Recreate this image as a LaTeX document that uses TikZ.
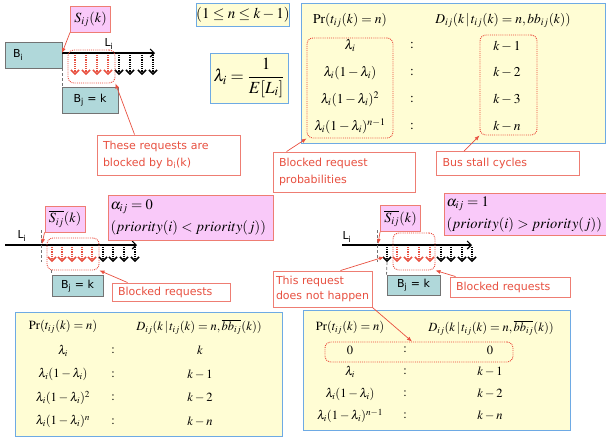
\documentclass[tikz,border=0pt]{standalone}
\usepackage{amsmath}
\usepackage{mathptmx}
\usepackage[no-math]{fontspec}
\setsansfont{DejaVu Sans}
\usetikzlibrary{arrows.meta,positioning}
\definecolor{padyel}{RGB}{255,253,212}
\definecolor{padblue}{RGB}{110,170,228}
\definecolor{padpink}{RGB}{249,201,249}
\definecolor{notered}{RGB}{232,80,64}
\definecolor{noteline}{RGB}{238,125,115}
\definecolor{busteal}{RGB}{176,216,218}

\begin{document}
\begin{tikzpicture}[x=1pt, y=-1pt,
    bus/.style={draw=black!55, fill=busteal, line width=0.9pt, inner sep=0pt,
                font=\sffamily\fontsize{11}{13}\selectfont},
    sbox/.style={draw=noteline, fill=padpink, line width=0.9pt, inner sep=0pt,
                 minimum width=40pt, minimum height=26pt, font=\fontsize{14}{16}\selectfont},
    abox/.style={draw=noteline, fill=padpink, line width=0.9pt, inner xsep=2.5pt,
                 inner ysep=0pt, align=left, font=\fontsize{14.5}{22}\selectfont},
    ybox/.style={draw=padblue, fill=padyel, line width=0.9pt, inner sep=0pt},
    note/.style={draw=noteline, fill=white, line width=0.9pt, text=notered,
                 inner xsep=6pt, inner ysep=0pt, align=left,
                 font=\sffamily\fontsize{11}{17}\selectfont},
    grp/.style={draw=notered!90!red, densely dotted, line width=0.9pt, rounded corners=6pt, inner sep=0pt},
    lab/.style={font=\sffamily\fontsize{11}{13}\selectfont, inner sep=0pt},
    cellA/.style={font=\fontsize{13.5}{15}\selectfont, inner sep=0pt},
    cellB/.style={font=\fontsize{12.5}{15}\selectfont, inner sep=0pt},
    arr/.style={-{Latex[length=5pt,width=4pt]}, notered, line width=0.7pt},
    tline/.style={-{Straight Barb[length=4pt,width=8pt]}, line width=1.1pt},
    reqr/.style={densely dotted, notered, line width=1.2pt,
                 -{Straight Barb[length=4pt,width=8pt,line width=1.5pt]}},
    reqk/.style={reqr, black},
    vline/.style={densely dashed, black!55, line width=0.8pt}
  ]
\useasboundingbox (0,0) rectangle (606,440);

\node[ybox, minimum width=304pt, minimum height=140pt] (tb1) at (453,73) {};
\node[ybox, minimum width=267pt, minimum height=124pt] (tb3) at (148.5,374) {};
\node[ybox, minimum width=267pt, minimum height=120pt] (tb4) at (436.5,370) {};

\node[bus, minimum width=57pt, minimum height=26pt, text width=41pt, align=left] (bi) at (33.5,55) {B\textsubscript{i}};
\node[bus, minimum width=56pt, minimum height=26pt] (bj1) at (90,100) {B\textsubscript{j} = k};
\node[sbox] (s1) at (90.5,19) {$S_{ij}(k)$};
\coordinate (t1a) at (62,53);
\coordinate (t1b) at (155,53);
\draw[tline] (t1a) -- (t1b);
\node[lab] (l1) at (109,44) {L\textsubscript{i}};
\foreach \x in {75,86,97,108} \draw[reqr] (\x,55) -- (\x,75);
\foreach \x in {119,130,142,153} \draw[reqk] (\x,55) -- (\x,75);
\node[grp, minimum width=47pt, minimum height=33pt] (g1) at (91.5,66.5) {};
\draw[vline] (bi.south east) -- (bi.south east |- bj1.north);
\draw[arr] (s1.south west) -- (t1a);
\node[note, text width=131pt, minimum height=40pt] (n1) at (168.5,155) {These requests are\\blocked by b\textsubscript{i}(k)};
\draw[arr] ([xshift=38pt]n1.north west) -- (g1.south east);

\node[ybox, minimum width=90pt, minimum height=23pt, font=\fontsize{15}{17}\selectfont] (rng) at (243,14.5) {$(1\le n\le k-1)$};
\node[ybox, minimum width=78pt, minimum height=50pt, font=\fontsize{17}{19}\selectfont] (lam) at (249,78) {$\lambda_i=\dfrac{1}{E[L_i]}$};

\node[cellA] (h1a) at (350,20) {$\Pr(t_{ij}(k)=n)$};
\node[cellA] (h1b) at (503,20) {$D_{ij}(k\,|\,t_{ij}(k)=n,bb_{ij}(k))$};
\foreach \p/\d [count=\r] in {{\lambda_i}/{k-1}, {\lambda_i(1-\lambda_i)}/{k-2},
    {\lambda_i(1-\lambda_i)^2}/{k-3}, {\lambda_i(1-\lambda_i)^{n-1}}/{k-n}} {
  \node[cellA] (p1\r) at (350,{19.3+26.7*\r}) {$\p$};
  \node[cellA] (c1\r) at (412,{19.3+26.7*\r}) {$:$};
  \node[cellA] (d1\r) at (507,{19.3+26.7*\r}) {$\d$};
}
\node[grp, minimum width=86pt, minimum height=100pt] (g2) at (350,88) {};
\node[grp, minimum width=57pt, minimum height=100pt] (g3) at (508.5,85) {};
\node[note, text width=130pt, minimum height=40pt] (n2) at (344,172) {Blocked request\\probabilities};
\draw[arr] ([xshift=14pt]n2.north west) -- (g2.south west);
\node[note, text width=131pt, minimum height=24pt] (n3) at (508,163.5) {Bus stall cycles};
\draw[arr] ([xshift=28pt]n3.north west) -- (g3.south west);

\coordinate (t2a) at (5,245);
\coordinate (t2b) at (137,245);
\draw[tline] (t2a) -- (t2b);
\node[lab] (l2) at (22,236) {L\textsubscript{i}};
\draw[vline] (41,230) -- (41,262);
\node[sbox] (s2) at (65,219) {$\overline{S_{ij}}(k)$};
\coordinate (h2) at (42,244);
\draw[arr] (s2.south west) -- (h2);
\node[abox, minimum width=165pt, minimum height=45pt, text width=160pt] (a0) at (190.5,217.5) {$\alpha_{ij}=0$\\$(priority(i)<priority(j))$};
\foreach \x in {52,62,72,82,92} \draw[reqr] (\x,247) -- (\x,262);
\foreach \x in {103,113,124,135} \draw[reqk] (\x,247) -- (\x,262);
\node[grp, minimum width=52pt, minimum height=32pt] (g4) at (73,254) {};
\node[bus, minimum width=51pt, minimum height=21pt] (bj2) at (77.5,286) {B\textsubscript{j} = k};
\draw[vline] (bj2.north west |- g4.south) -- (bj2.north west);
\node[note, text width=106pt, minimum height=18pt] (n4) at (171,292) {Blocked requests};
\draw[arr] ([xshift=16pt]n4.north west) -- (g4.south east);

\coordinate (t3a) at (342,245);
\coordinate (t3b) at (472,245);
\draw[tline] (t3a) -- (t3b);
\node[lab] (l3) at (347,237) {L\textsubscript{i}};
\draw[vline] (377,230) -- (377,262);
\node[sbox] (s3) at (400.5,218.5) {$\overline{S_{ij}}(k)$};
\coordinate (h3) at (378,244);
\draw[arr] (s3.south west) -- (h3);
\node[abox, minimum width=162pt, minimum height=42pt, text width=157pt] (a1) at (525,214) {$\alpha_{ij}=1$\\$(priority(i)>priority(j))$};
\draw[reqk] (387,247) -- (387,262);
\foreach \x in {397,408,419,430} \draw[reqr] (\x,247) -- (\x,262);
\foreach \x in {441,451,462,472} \draw[reqk] (\x,247) -- (\x,262);
\node[grp, minimum width=42pt, minimum height=37pt] (g5) at (414,251.5) {};
\node[bus, minimum width=53pt, minimum height=20pt] (bj3) at (413.5,285) {B\textsubscript{j} = k};
\draw[vline] (387,262) -- (bj3.north west);
\node[note, text width=108pt, minimum height=20pt] (n5) at (510,287) {Blocked requests};
\draw[arr] ([xshift=6pt]n5.north west) -- (g5.south east);

\node[cellB] (h3a) at (63,327) {$\Pr(t_{ij}(k)=n)$};
\node[cellB] (h3b) at (199,327) {$D_{ij}(k\,|\,t_{ij}(k)=n,\overline{bb_{ij}}(k))$};
\foreach \p/\d [count=\r] in {{\lambda_i}/{k}, {\lambda_i(1-\lambda_i)}/{k-1},
    {\lambda_i(1-\lambda_i)^2}/{k-2}, {\lambda_i(1-\lambda_i)^{n}}/{k-n}} {
  \node[cellB] (p3\r) at (63,{327+23.7*\r}) {$\p$};
  \node[cellB] (c3\r) at (113,{327+23.7*\r}) {$:$};
  \node[cellB] (d3\r) at (200,{327+23.7*\r}) {$\d$};
}

\node[cellB] (h4a) at (350,328) {$\Pr(t_{ij}(k)=n)$};
\node[cellB] (h4b) at (491,328) {$D_{ij}(k\,|\,t_{ij}(k)=n,\overline{bb_{ij}}(k))$};
\foreach \p/\d [count=\r] in {{0}/{0}, {\lambda_i}/{k-1},
    {\lambda_i(1-\lambda_i)}/{k-2}, {\lambda_i(1-\lambda_i)^{n-1}}/{k-n}} {
  \node[cellB] (p4\r) at (350,{328+22*\r}) {$\p$};
  \node[cellB] (c4\r) at (405,{328+22*\r}) {$:$};
  \node[cellB] (d4\r) at (490,{328+22*\r}) {$\d$};
}
\node[grp, minimum width=188pt, minimum height=20pt] (g6) at (419,352) {};

\node[note, inner xsep=3pt, text width=93pt, minimum height=36pt, font=\sffamily\fontsize{11}{15}\selectfont] (n6) at (322.5,289) {This request\\does not happen};
\coordinate (skip) at (384,257);
\draw[arr] ([xshift=-32pt]n6.north east) -- (skip);
\draw[arr] (n6.south east) -- ([xshift=-7pt]g6.north);
\end{tikzpicture}
\end{document}
